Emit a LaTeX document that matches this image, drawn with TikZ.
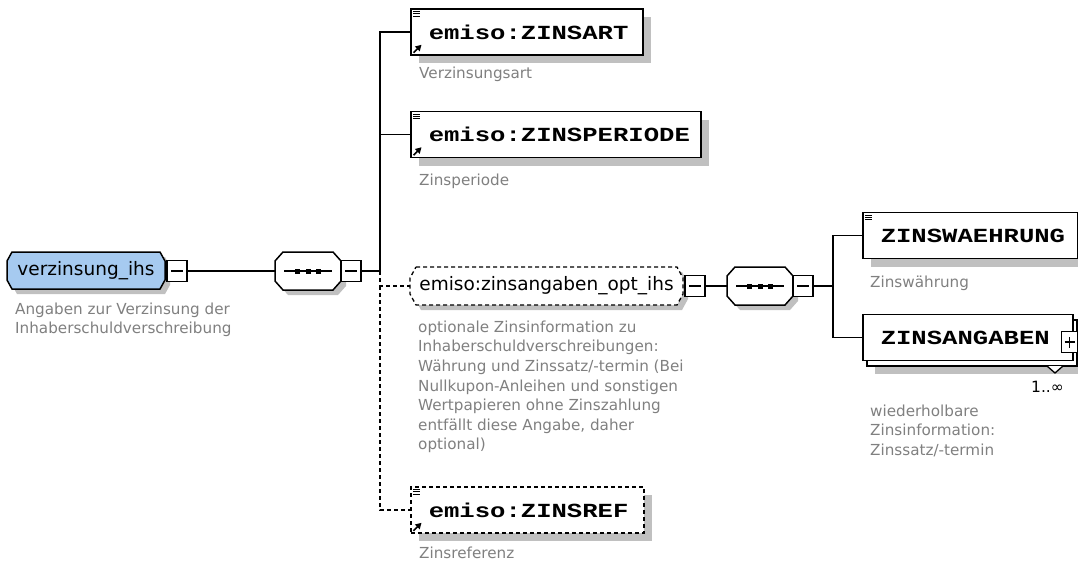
\documentclass[tikz,border=0pt]{standalone}
\usepackage{fontspec}
\usepackage{graphicx}
\setmainfont{DejaVu Sans}
\newfontfamily\elfont{Liberation Mono}
\usetikzlibrary{calc,shadows,arrows.meta}
\definecolor{rootblue}{RGB}{166,202,240}
\definecolor{shadowgray}{RGB}{192,192,192}
\definecolor{labelgray}{RGB}{128,128,128}
% octagon: x1,y1,x2,y2,dx,dy,options
\newcommand\diagoct[7]{%
 \fill[shadowgray] (#1+#5+5,#2+5) -- (#3-#5+5,#2+5) -- (#3+5,#2+#6+5) -- (#3+5,#4-#6+5) -- (#3-#5+5,#4+5) -- (#1+#5+5,#4+5) -- (#1+5,#4-#6+5) -- (#1+5,#2+#6+5) -- cycle;
 \draw[#7] (#1+#5,#2) -- (#3-#5,#2) -- (#3,#2+#6) -- (#3,#4-#6) -- (#3-#5,#4) -- (#1+#5,#4) -- (#1,#4-#6) -- (#1,#2+#6) -- cycle;}
\newcommand\seqglyph[3]{% x1,x2,y
 \draw[line width=1.3pt] (#1,#3) -- (#2,#3);
 \foreach \k in {-10.5,0,10.5}{\fill ({(#1+#2)/2+\k-2.5},#3-2.5) rectangle ++(5,5);}}
\newcommand\eqicon[1]{\foreach \k in {0,1,2}{\draw[line width=1.1pt] ($(#1.north west)+(3,3.3+2.3*\k)$) -- ++(7,0);}}
\newcommand\reficon[1]{\draw[line width=1.6pt,-{Triangle[length=6pt,width=6.5pt]}] ($(#1.south west)+(3.5,-3)$) -- ++(8,-8);}
\newcommand\elname[2]{\makebox[#1][l]{\hspace*{18pt}\scalebox{1.28}[1]{#2}}}
\begin{document}
\begin{tikzpicture}[x=1pt,y=-1pt,
 conn/.style={line width=1.3pt},
 optconn/.style={line width=1.3pt,dash pattern=on 4pt off 3pt},
 elemshadow/.style={general shadow={fill=shadowgray,shadow xshift=8pt,shadow yshift=-8pt}},
 elem/.style={draw,line width=1.5pt,fill=white,rectangle,minimum height=46pt,inner xsep=0pt,inner ysep=0pt,
   font=\elfont\bfseries\fontsize{20}{24}\selectfont,anchor=west,elemshadow},
 optelem/.style={elem,dash pattern=on 4pt off 3pt},
 mbox/.style={draw,fill=white,line width=1.3pt,minimum width=20pt,minimum height=21pt,inner sep=0pt,
   path picture={\draw[line width=1.3pt] ([xshift=4pt]path picture bounding box.west) -- ([xshift=-4pt]path picture bounding box.east);}},
 pbox/.style={draw,fill=white,line width=1.3pt,minimum width=16pt,minimum height=21pt,inner sep=0pt,
   path picture={\draw[line width=1.3pt] ([xshift=3pt]path picture bounding box.west) -- ([xshift=-3pt]path picture bounding box.east)
     ([yshift=5pt]path picture bounding box.south) -- ([yshift=-5pt]path picture bounding box.north);}},
 bigtext/.style={font=\fontsize{18.5}{22}\selectfont,inner sep=0pt},
 desc/.style={text=labelgray,font=\fontsize{15.2}{19.6}\selectfont,align=left,anchor=north west,inner sep=0pt},
]
\useasboundingbox (0,0) rectangle (1078,562);
\fill[white] (0,0) rectangle (1078,562);

% root
\diagoct{7}{252}{165}{289}{5}{9}{line width=1.5pt,fill=rootblue}
\node[bigtext,minimum width=158pt,minimum height=37pt] (root) at (86,270.5) {verzinsung\_ihs};
\node[mbox] (rootm) at (177,271) {};
\node[desc] (rootdesc) at (15,302.5) {Angaben zur Verzinsung der\\Inhaberschuldverschreibung};

% sequence 1
\diagoct{275}{252}{341}{290}{8}{9}{line width=1.5pt,fill=white}
\node[minimum width=66pt,minimum height=38pt,inner sep=0pt] (seq1) at (308,271) {};
\seqglyph{284}{332}{271}
\node[mbox] (seq1m) at (351,271) {};

% elements
\node[elem] (zinsart) at (410,32) {\elname{232pt}{emiso:ZINSART}};
\eqicon{zinsart}\reficon{zinsart}
\node[desc] (zinsartdesc) at (419,66.6) {Verzinsungsart};

\node[elem] (zinsperiode) at (410,134.5) {\elname{290pt}{emiso:ZINSPERIODE}};
\eqicon{zinsperiode}\reficon{zinsperiode}
\node[desc] (zinsperiodedesc) at (419,173.6) {Zinsperiode};

% optional group
\diagoct{410}{267}{683}{305}{6}{11}{line width=1.3pt,fill=white,dash pattern=on 4pt off 3pt}
\node[bigtext,minimum width=273pt,minimum height=38pt] (opt) at (546.5,286) {emiso:zinsangaben\_opt\_ihs};
\node[mbox] (optm) at (695,286) {};
\node[desc] (optdesc) at (418,320.6) {optionale Zinsinformation zu\\Inhaberschuldverschreibungen:\\Währung und Zinssatz/-termin (Bei\\Nullkupon-Anleihen und sonstigen\\Wertpapieren ohne Zinszahlung\\entfällt diese Angabe, daher\\optional)};

\diagoct{727}{267}{793}{305}{8}{9}{line width=1.5pt,fill=white}
\node[minimum width=66pt,minimum height=38pt,inner sep=0pt] (seq2) at (760,286) {};
\seqglyph{736}{784}{286}
\node[mbox] (seq2m) at (803,286) {};

\node[elem] (zinswaehrung) at (862,235.5) {\elname{215pt}{ZINSWAEHRUNG}};
\eqicon{zinswaehrung}
\node[desc] (zinswaehrungdesc) at (870,275.6) {Zinswährung};

% repeated element
\fill[shadowgray] (875,328) rectangle (1085,374);
\draw[line width=1.5pt,fill=white] (867,320) rectangle (1077,366);
\node[draw,line width=1.5pt,fill=white,rectangle,minimum height=46pt,inner sep=0pt,anchor=west,
   font=\elfont\bfseries\fontsize{20}{24}\selectfont] (zinsangaben) at (862,337.5) {\elname{210pt}{ZINSANGABEN}};
\node[pbox] (zinsangabenp) at (1069.5,342) {};
\draw[line width=1.3pt,fill=white] (1047,366) -- (1055,373) -- (1063,366);
\node[font=\fontsize{15.5}{18}\selectfont,inner sep=0pt,anchor=base east] (card) at (1064,392.5) {1..∞};
\node[desc] (zinsangabendesc) at (870,404.6) {wiederholbare\\Zinsinformation:\\Zinssatz/-termin};

\node[optelem] (zinsref) at (410,510) {\elname{233pt}{emiso:ZINSREF}};
\eqicon{zinsref}\reficon{zinsref}
\node[desc] (zinsrefdesc) at (419,546.6) {Zinsreferenz};

% connectors
\coordinate (v1) at (380,271);
\coordinate (v1o) at (380,286);
\coordinate (v2) at (833,286);
\draw[conn] (rootm.east) -- (seq1.west);
\draw[conn] (seq1m.east) -- (v1);
\draw[conn] (v1) |- (zinsart.west);
\draw[conn] (v1) |- (zinsperiode.west);
\draw[optconn] (v1) -- (v1o) -- (opt.west);
\draw[optconn] (v1o) |- (zinsref.west);
\draw[conn] (optm.east) -- (seq2.west);
\draw[conn] (seq2m.east) -- (v2);
\draw[conn] (v2) |- (zinswaehrung.west);
\draw[conn] (v2) |- (zinsangaben.west);
\end{tikzpicture}
\end{document}
